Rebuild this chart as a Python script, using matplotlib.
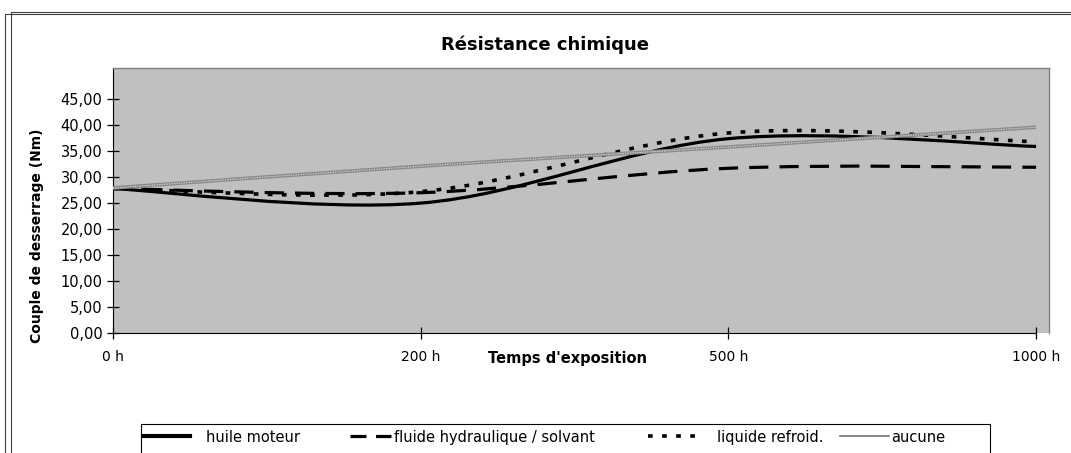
import matplotlib
matplotlib.use("Agg")
import matplotlib.pyplot as plt
from matplotlib.lines import Line2D
from matplotlib.patches import PathPatch, Rectangle
from matplotlib.path import Path

# data
hours = ["0 h", "200 h", "500 h", "1000 h"]
huile_moteur = [27.8, 25.0, 37.4, 35.9]
fluide_hydraulique = [27.8, 27.0, 31.7, 31.9]
liquide_refroid = [27.8, 27.2, 38.5, 36.8]
aucune = [27.9, 32.1, 35.8, 39.6]
y_ticks = [0, 5, 10, 15, 20, 25, 30, 35, 40, 45]

series_names = ["huile moteur", "fluide hydraulique / solvant", "liquide refroid.", "aucune"]

plt.rcParams["font.family"] = ["DejaVu Sans"]

W, H = 1071, 453


def px(x, y):
    # pixel position (from top-left) -> figure fraction
    return x / W, 1 - y / H


def smooth_path(xs, ys):
    # Excel-style smoothed line: cubic Bezier through every point
    pts = list(zip(xs, ys))
    n = len(pts)
    verts = [pts[0]]
    codes = [Path.MOVETO]
    for i in range(n - 1):
        p0 = pts[max(i - 1, 0)]
        p1 = pts[i]
        p2 = pts[i + 1]
        p3 = pts[min(i + 2, n - 1)]
        c1 = (p1[0] + (p2[0] - p0[0]) / 6, p1[1] + (p2[1] - p0[1]) / 6)
        c2 = (p2[0] - (p3[0] - p1[0]) / 6, p2[1] - (p3[1] - p1[1]) / 6)
        verts += [c1, c2, p2]
        codes += [Path.CURVE4] * 3
    return Path(verts, codes)


fig = plt.figure(figsize=(W / 100, H / 100), dpi=100)
fig.patch.set_facecolor("white")

left, top = px(113, 68)
right, bottom = px(1049, 333)
ax = fig.add_axes([left, bottom, right - left, top - bottom])
ax.set_facecolor("#c0c0c0")

x = list(range(len(hours)))

solid = dict(lw=2.3, ls="-")
dashed = dict(lw=2.3, ls=(0, (6, 3.5)))
dotted = dict(lw=2.6, ls=(0, (1.3, 2.6)))
for vals, st in [(fluide_hydraulique, dashed), (liquide_refroid, dotted), (huile_moteur, solid)]:
    ax.add_patch(PathPatch(smooth_path(x, vals), fill=False, edgecolor="black",
                           lw=st["lw"], linestyle=st["ls"], capstyle="butt", zorder=3))
# "aucune": textured grey line
ax.add_patch(PathPatch(smooth_path(x, aucune), fill=False, edgecolor="#8a8a8a",
                       lw=2.6, zorder=4))
ax.add_patch(PathPatch(smooth_path(x, aucune), fill=False, edgecolor="#e0e0e0",
                       lw=0.8, linestyle=(0, (1, 1.2)), zorder=5))

ax.set_xlim(0, 3.042)
ax.set_ylim(0, 51)
ax.set_xticks(x)
ax.set_xticklabels(hours, fontsize=10)
ax.set_yticks(y_ticks)
ax.set_yticklabels([("%.2f" % v).replace(".", ",") for v in y_ticks], fontsize=10.5)
ax.tick_params(axis="both", direction="inout", length=9, width=0.9, color="black")
ax.tick_params(axis="x", pad=8)
ax.tick_params(axis="y", pad=3)

for side in ["top", "right"]:
    ax.spines[side].set_color("#808080")
    ax.spines[side].set_linewidth(1)
ax.spines["left"].set_color("black")
ax.spines["bottom"].set_color("black")
ax.spines["bottom"].set_bounds(0, 3)

fig.text(*px(545, 45), "Résistance chimique", ha="center", va="center",
         fontsize=13, fontweight="bold")
fig.text(*px(37, 236), "Couple de desserrage (Nm)", ha="center", va="center",
         rotation=90, fontsize=10, fontweight="bold")
fig.text(*px(568, 358), "Temps d'exposition", ha="center", va="center",
         fontsize=10.5, fontweight="bold")

# outer chart frame (only top/left visible in the crop)
for xo, yo in [(5, 14), (11, 12)]:
    fig.add_artist(Line2D([xo / W, xo / W], [1 - yo / H, 0], transform=fig.transFigure,
                          color="#404040", lw=0.8))
    fig.add_artist(Line2D([xo / W, 1], [1 - yo / H, 1 - yo / H], transform=fig.transFigure,
                          color="#404040", lw=0.8))

# legend box, cut off by the bottom edge, entries laid out by hand
lx0, ly0 = px(141, 424)
fig.add_artist(Rectangle((lx0, -0.05), 990 / W - lx0, ly0 + 0.05, transform=fig.transFigure,
                         fill=False, edgecolor="black", lw=0.8))
legend_styles = [
    dict(color="black", lw=3, ls="-"),
    dict(color="black", lw=2.3, ls=(0, (5, 3))),
    dict(color="black", lw=2.6, ls=(0, (1.3, 2.6))),
    dict(color="#707070", lw=1.2, ls="-"),
]
sample_x = [(143, 190), (350, 391), (648, 697), (840, 889)]
text_x = [206, 394, 717, 891]
ly = 1 - 436 / H
for name, st, (sx0, sx1), tx in zip(series_names, legend_styles, sample_x, text_x):
    fig.add_artist(Line2D([sx0 / W, sx1 / W], [ly, ly], transform=fig.transFigure,
                          color=st["color"], lw=st["lw"], ls=st["ls"]))
    fig.text(tx / W, ly, name, ha="left", va="center_baseline", fontsize=10.5)

fig.savefig("out.png", dpi=100)
